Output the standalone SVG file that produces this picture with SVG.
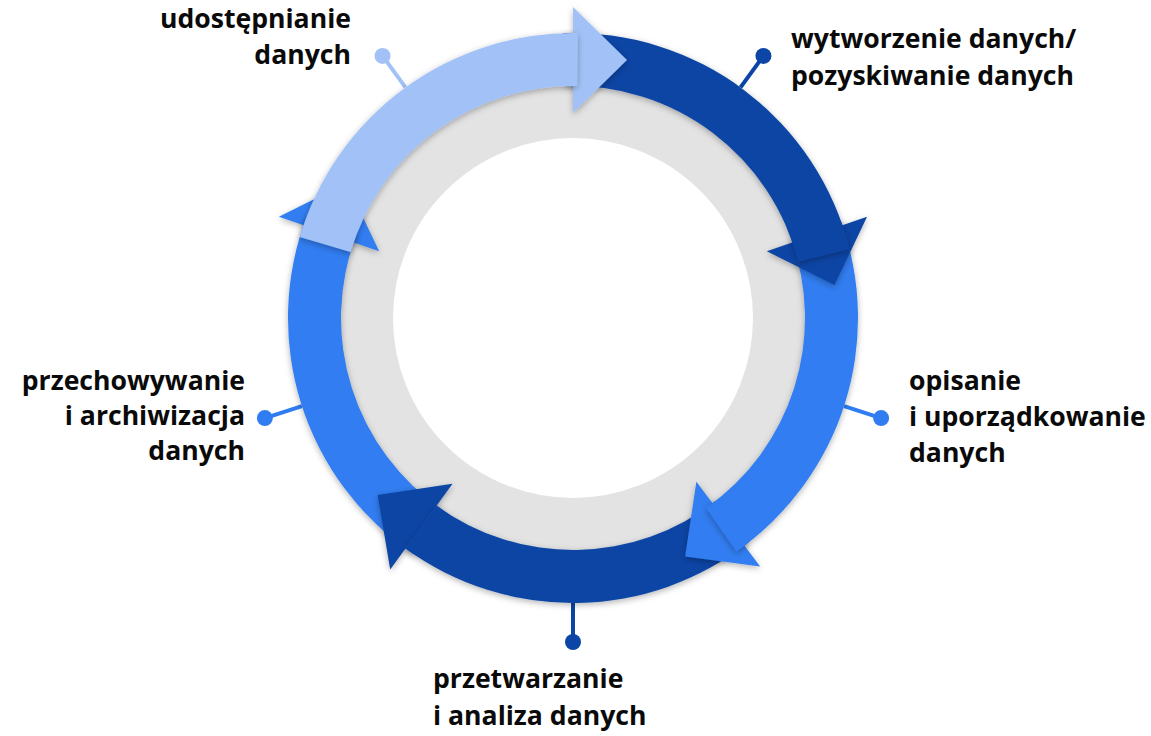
<svg xmlns="http://www.w3.org/2000/svg" width="1151" height="736" viewBox="0 0 1151 736">
  <defs>
    <filter id="sh" x="-20%" y="-20%" width="140%" height="140%">
      <feDropShadow dx="0" dy="2" stdDeviation="3" flood-color="#000" flood-opacity="0.3"/>
    </filter>
  </defs>
  <style>
    .dark { fill: #0b45a5; }
    .mid { fill: #307df1; }
    .light { fill: #a2c2f7; }
    .seg { filter: url(#sh); }
    .lbl { font-family: "Open Sans", "Noto Sans", "Liberation Sans", sans-serif; font-weight: 700; font-size: 26.6px; fill: #0a0a0a; }
    .ld { stroke-width: 4; fill: none; }
    .ld-dark { stroke: #0b45a5; }
    .ld-mid { stroke: #307df1; }
    .ld-light { stroke: #a2c2f7; }
  </style>
  <rect width="1151" height="736" fill="#ffffff"/>

  <g id="ring">
    <circle cx="573" cy="318" r="210" fill="none" stroke="#e3e3e3" stroke-width="60"/>
  </g>

  <g id="connectors">
    <line class="ld ld-light" x1="405.48" y1="87.43" x2="382.56" y2="55.88"/>
    <circle class="light" cx="382.56" cy="55.88" r="8"/>
    <line class="ld ld-dark" x1="740.52" y1="87.43" x2="763.44" y2="55.88"/>
    <circle class="dark" cx="763.44" cy="55.88" r="8"/>
    <line class="ld ld-mid" x1="844.05" y1="406.07" x2="881.14" y2="418.12"/>
    <circle class="mid" cx="881.14" cy="418.12" r="8"/>
    <line class="ld ld-dark" x1="573" y1="603" x2="573" y2="642"/>
    <circle class="dark" cx="573" cy="642" r="8"/>
    <line class="ld ld-mid" x1="301.95" y1="406.07" x2="264.86" y2="418.12"/>
    <circle class="mid" cx="264.86" cy="418.12" r="8"/>
  </g>

  <g id="seg-przechowywanie">
    <polygon class="mid seg" points="379.17,251.26 278.94,216.75 346.64,182.94"/>
    <path class="mid seg" d="M 413.63 554.28 A 285 285 0 0 1 306.93 215.86 L 356.41 234.86 A 232 232 0 0 0 443.27 510.34 Z"/>
  </g>

  <g id="seg-przetwarzanie">
    <polygon class="dark seg" points="452.50,483.85 390.20,569.60 377.66,494.99"/>
    <path class="dark seg" d="M 748.46 542.58 A 285 285 0 0 1 405.48 548.57 L 436.63 505.69 A 232 232 0 0 0 715.83 500.82 Z"/>
  </g>

  <g id="seg-opisanie">
    <polygon class="mid seg" points="696.37,481.72 760.17,566.38 685.14,556.55"/>
    <path class="mid seg" d="M 840.81 220.52 A 285 285 0 0 1 736.47 551.46 L 706.07 508.04 A 232 232 0 0 0 791.01 238.65 Z"/>
  </g>

  <g id="seg-wytworzenie">
    <polygon class="dark seg" points="766.83,251.26 867.06,216.75 834.52,285.06"/>
    <path class="dark seg" d="M 563.05 33.17 A 285 285 0 0 1 849.54 249.05 L 798.11 261.87 A 232 232 0 0 0 564.90 86.14 Z"/>
  </g>

  <g id="seg-udostepnianie">
    <polygon class="light seg" points="573,113 573,7 627,60"/>
    <path class="light seg" d="M 299.74 237.05 A 285 285 0 0 1 577.97 33.04 L 577.05 86.03 A 232 232 0 0 0 350.55 252.11 Z"/>
  </g>

  <g id="label-udostepnianie">
    <text class="lbl" text-anchor="end" x="351" y="28">udostępnianie</text>
    <text class="lbl" text-anchor="end" x="351" y="64">danych</text>
  </g>
  <g id="label-wytworzenie">
    <text class="lbl" x="791" y="48">wytworzenie danych/</text>
    <text class="lbl" x="791" y="85">pozyskiwanie danych</text>
  </g>
  <g id="label-opisanie">
    <text class="lbl" x="909" y="390">opisanie</text>
    <text class="lbl" x="909" y="426">i uporządkowanie</text>
    <text class="lbl" x="909" y="462">danych</text>
  </g>
  <g id="label-przetwarzanie">
    <text class="lbl" x="433" y="688">przetwarzanie</text>
    <text class="lbl" x="433" y="725">i analiza danych</text>
  </g>
  <g id="label-przechowywanie">
    <text class="lbl" text-anchor="end" x="245" y="390">przechowywanie</text>
    <text class="lbl" text-anchor="end" x="245" y="425">i archiwizacja</text>
    <text class="lbl" text-anchor="end" x="245" y="460">danych</text>
  </g>
</svg>
